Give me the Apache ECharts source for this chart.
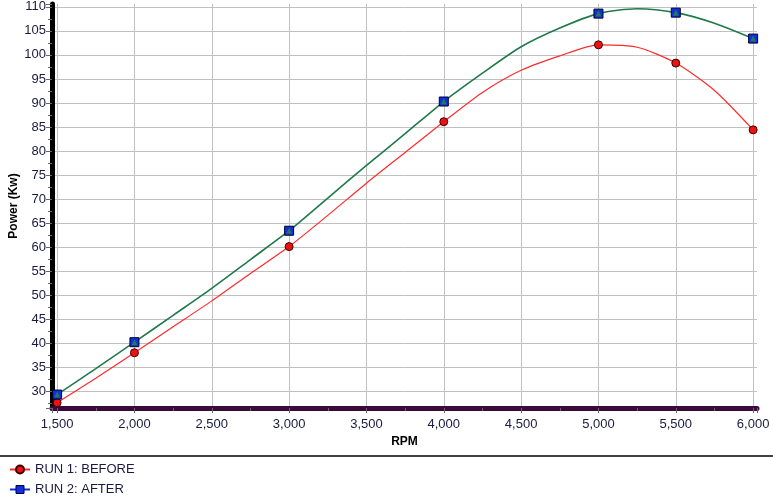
<!DOCTYPE html>
<html>
<head>
<meta charset="utf-8">
<script src="https://cdn.jsdelivr.net/npm/echarts@6/dist/echarts.min.js"></script>
<style>
  html, body { margin: 0; padding: 0; background: #fff; }
  #chart { width: 773px; height: 497px; }
</style>
</head>
<body>
<div id="chart"></div>
<script>
// 数据（从图上读出来的）
const rpm = [1500, 1750, 2000, 2250, 2500, 2750, 3000, 3250, 3500, 3750, 4000, 4250, 4500, 4750, 5000, 5250, 5500, 5750, 6000];
const before = [27.6, 32.7, 38.0, 43.4, 48.8, 54.5, 60.1, 66.6, 73.3, 79.7, 86.1, 92.2, 96.8, 99.8, 102.1, 101.6, 98.3, 92.6, 84.4];
const after = [29.3, 34.7, 40.2, 45.8, 51.4, 57.4, 63.4, 70.2, 77.0, 83.6, 90.3, 96.2, 101.7, 105.6, 108.6, 109.6, 108.8, 106.6, 103.4];
const markedRpm = [1500, 2000, 3000, 4000, 5000, 5500, 6000];
const seriesNames = ['RUN 1: BEFORE', 'RUN 2: AFTER'];

const font = '"Liberation Sans", Arial, sans-serif';

function buildLine(values) {
  return rpm.map((r, i) => {
    const item = { value: [r, values[i]] };
    if (markedRpm.indexOf(r) < 0) item.symbol = 'none';
    return item;
  });
}

function buildMarks(values) {
  return rpm.map((r, i) => [r, values[i]]).filter(p => markedRpm.indexOf(p[0]) >= 0);
}

let myChart = echarts.init(document.getElementById('chart'));
let option = {
  animation: false,
  grid: { left: 52, right: 16, top: 4, bottom: 89, containLabel: false, outerBoundsMode: 'none' },
  legend: {
    orient: 'vertical',
    left: 4,
    top: 463,
    padding: [0, 5],
    itemGap: 7,
    itemWidth: 20,
    itemHeight: 10,
    textStyle: { fontFamily: font, fontSize: 13, color: '#1a1a40' },
    data: [
      { name: seriesNames[0] },
      { name: seriesNames[1], itemStyle: { color: '#1030e0', borderColor: '#000040', borderWidth: 1 }, lineStyle: { color: '#1030e0' } }
    ]
  },
  graphic: [
    { type: 'line', shape: { x1: 0, y1: 456, x2: 773, y2: 456 }, style: { stroke: '#000', lineWidth: 1.5 } }
  ],
  xAxis: {
    type: 'value',
    min: 1467,
    max: 6025,
    minInterval: 500,
    maxInterval: 500,
    name: 'RPM',
    nameLocation: 'middle',
    nameGap: 28,
    nameMoveOverlap: false,
    nameTextStyle: { fontFamily: font, fontSize: 12, fontWeight: 'bold', color: '#000' },
    axisLine: { show: true, onZero: false, lineStyle: { color: '#3b0a3d', width: 5 } },
    axisTick: { show: true, length: 5, lineStyle: { color: '#666' } },
    minorTick: { show: true, splitNumber: 2, length: 3, lineStyle: { color: '#666' } },
    splitLine: { show: true, showMinLine: false, showMaxLine: false, lineStyle: { color: '#c0c0c0', width: 1 } },
    axisLabel: {
      showMinLabel: false,
      showMaxLabel: false,
      margin: 10,
      fontFamily: font,
      fontSize: 13,
      color: '#1a1a40',
      formatter: v => v.toLocaleString('en-US')
    }
  },
  yAxis: {
    type: 'value',
    min: 26.5,
    max: 110.6,
    minInterval: 5,
    maxInterval: 5,
    name: 'Power (Kw)',
    nameLocation: 'middle',
    nameGap: 32,
    nameMoveOverlap: false,
    nameTextStyle: { fontFamily: font, fontSize: 12, fontWeight: 'bold', color: '#000' },
    axisLine: { show: true, onZero: false, lineStyle: { color: '#000', width: 5 } },
    axisTick: { show: true, length: 6, lineStyle: { color: '#666' } },
    minorTick: { show: true, splitNumber: 2, length: 4, lineStyle: { color: '#666' } },
    splitLine: { show: true, showMinLine: false, showMaxLine: false, lineStyle: { color: '#c0c0c0', width: 1 } },
    axisLabel: {
      showMinLabel: false,
      showMaxLabel: false,
      margin: 6,
      fontFamily: font,
      fontSize: 13,
      color: '#1a1a40'
    }
  },
  series: [
    {
      name: seriesNames[0],
      type: 'line',
      smooth: 0.25,
      symbol: 'circle',
      symbolSize: 8,
      lineStyle: { color: '#ff2a2a', width: 1.2 },
      itemStyle: { color: '#ee1111', borderColor: '#400000', borderWidth: 1 },
      data: buildLine(before)
    },
    {
      name: seriesNames[1],
      type: 'line',
      smooth: 0.25,
      symbol: 'rect',
      symbolSize: 9,
      lineStyle: { color: '#1f7a4c', width: 1.6 },
      itemStyle: { color: '#1030e0', borderColor: '#000030', borderWidth: 1 },
      data: buildLine(after)
    },
    {
      name: 'after-mark',
      type: 'scatter',
      symbol: 'triangle',
      symbolSize: 6,
      silent: true,
      itemStyle: { color: '#2a8a3a' },
      data: buildMarks(after),
      z: 5
    }
  ]
};

option && myChart.setOption(option);
</script>
</body>
</html>
